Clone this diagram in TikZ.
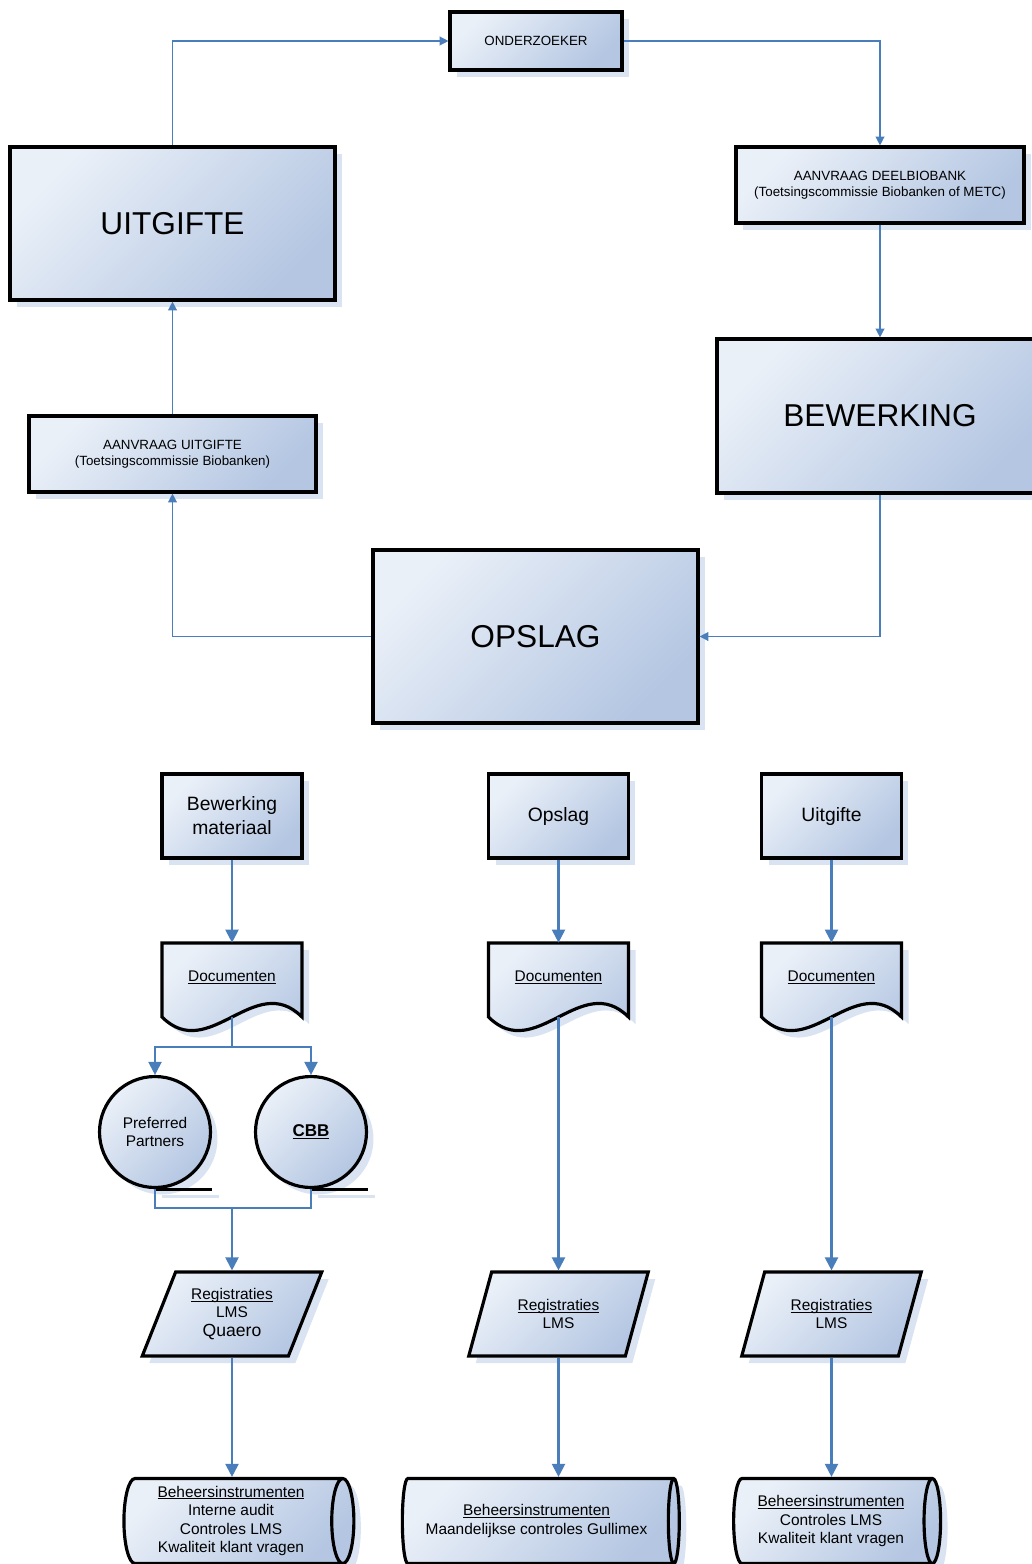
\documentclass[tikz,border=0pt]{standalone}
\usepackage{fontspec}
\setmainfont{Liberation Sans}
\usepackage{tikz}
\usetikzlibrary{shapes.geometric, shadows, arrows.meta}

\definecolor{FlowBlue}{HTML}{4A7EBB}
\definecolor{BoxLight}{HTML}{EAF0F8}
\definecolor{BoxDark}{HTML}{B4C6E2}
\definecolor{ShadowBlue}{HTML}{DAE3F2}

% underline that sits just below the baseline
\newcommand{\ulabel}[1]{\setbox0\hbox{#1}\rlap{\rule[-1.2pt]{\wd0}{0.45pt}}\box0}

\tikzset{
    boxshade/.style={top color=BoxLight, bottom color=BoxDark, shading angle=45},
    boxshadow/.style={drop shadow={shadow xshift=0.14cm, shadow yshift=-0.14cm, fill=ShadowBlue, opacity=1}},
    flowshape/.style={draw=black, line width=1.8pt, boxshade, boxshadow, align=center},
    flowbox/.style={rectangle, flowshape, inner sep=2pt},
    bigfont/.style={font=\fontsize{18}{22}\selectfont},
    smallfont/.style={font=\fontsize{7.6}{9}\selectfont},
    midfont/.style={font=\fontsize{11}{13.6}\selectfont},
    docfont/.style={font=\fontsize{8.8}{10.6}\selectfont},
    regbox/.style={trapezium, trapezium left angle=65, trapezium right angle=115, trapezium stretches=true,
        minimum width=3.6cm, minimum height=1.68cm, flowshape, docfont, inner sep=0pt},
    behbox/.style={cylinder, shape aspect=0.3, minimum width=1.7cm, flowshape, docfont, inner sep=1pt},
    thinarrow/.style={draw=FlowBlue, line width=0.75pt, -{Triangle[length=5pt,width=5pt]}},
    thickarrow/.style={draw=FlowBlue, line width=1.2pt, -{Triangle[length=7.4pt,width=7.4pt]}},
    plainline/.style={draw=FlowBlue, line width=1.2pt}
}

\begin{document}
\begin{tikzpicture}[x=0.02cm, y=-0.02cm]
    \useasboundingbox (0,0) rectangle (1031,1564);

    % Upper cycle
    \node[flowbox, smallfont, minimum width=3.44cm, minimum height=1.16cm] (Onderzoeker) at (536,41) {ONDERZOEKER};
    \node[flowbox, bigfont, minimum width=6.5cm, minimum height=3.06cm] (Uitgifte) at (172.5,223.5) {UITGIFTE};
    \node[flowbox, smallfont, minimum width=5.76cm, minimum height=1.52cm] (Deelbiobank) at (880,185)
        {AANVRAAG DEELBIOBANK\\(Toetsingscommissie Biobanken of METC)};
    \node[flowbox, bigfont, minimum width=6.52cm, minimum height=3.08cm] (Bewerking) at (880,416) {BEWERKING};
    \node[flowbox, smallfont, minimum width=5.74cm, minimum height=1.52cm] (AanvraagUitgifte) at (172.5,454)
        {AANVRAAG UITGIFTE\\(Toetsingscommissie Biobanken)};
    \node[flowbox, bigfont, minimum width=6.5cm, minimum height=3.46cm] (Opslag) at (535.5,636.5) {OPSLAG};

    \draw[thinarrow] (Uitgifte.north) |- (Onderzoeker.west);
    \draw[thinarrow] (Onderzoeker.east) -| (Deelbiobank.north);
    \draw[thinarrow] (Deelbiobank.south) -- (Bewerking.north);
    \draw[thinarrow] (Bewerking.south) |- (Opslag.east);
    \draw[thinarrow] (Opslag.west) -| (AanvraagUitgifte.south);
    \draw[thinarrow] (AanvraagUitgifte.north) -- (Uitgifte.south);

    % Lower columns
    \node[flowbox, midfont, minimum width=2.8cm, minimum height=1.68cm] (Fase1) at (232,816) {Bewerking\\materiaal};
    \node[flowbox, midfont, minimum width=2.8cm, minimum height=1.68cm] (Fase2) at (558.5,816) {Opslag};
    \node[flowbox, midfont, minimum width=2.8cm, minimum height=1.68cm] (Fase3) at (831.5,816) {Uitgifte};

    % Document shapes with wavy bottom
    \foreach \x [count=\i] in {232,558.5,831.5} {
        \begin{scope}[shift={(\x-70,943)}]
            \path[boxshade, boxshadow, draw=black, line width=1.8pt]
                (0,0) -- (140,0) -- (140,74) .. controls (93,27) and (47,121) .. (0,74) -- cycle;
        \end{scope}
        \node[docfont, minimum width=2.8cm, minimum height=1.48cm] (Doc\i) at (\x,980) {\raisebox{4pt}{\ulabel{Documenten}}};
    }

    \node[circle, flowshape, docfont, minimum size=2.22cm, inner sep=0pt] (Preferred) at (155,1132) {Preferred\\Partners};
    \node[circle, flowshape, font=\fontsize{9.7}{11}\selectfont\bfseries, minimum size=2.22cm, inner sep=0pt] (CBB) at (311,1132) {\ulabel{CBB}};
    \foreach \n in {Preferred, CBB} {
        \draw[ShadowBlue, line width=1.8pt] ([shift={(0.14cm,-0.14cm)}]\n.south) -- ++(57,0);
        \draw[black, line width=1.8pt] (\n.south) -- ++(57,0);
    }

    \node[regbox] (Reg1) at (232,1314) {\ulabel{Registraties}\\LMS\\{\fontsize{10}{12}\selectfont Quaero}};
    \node[regbox] (Reg2) at (558.5,1314) {\ulabel{Registraties}\\LMS};
    \node[regbox] (Reg3) at (831.5,1314) {\ulabel{Registraties}\\LMS};

    \node[behbox, minimum height=4.6cm] (Beh1) at (231,1521)
        {\ulabel{Beheersinstrumenten}\\Interne audit\\Controles LMS\\Kwaliteit klant vragen};
    \node[behbox, minimum height=5.54cm] (Beh2) at (536.5,1521)
        {\ulabel{Beheersinstrumenten}\\Maandelijkse controles Gullimex};
    \node[behbox, minimum height=4.14cm] (Beh3) at (831,1521)
        {\ulabel{Beheersinstrumenten}\\Controles LMS\\Kwaliteit klant vragen};

    % Connectors
    \foreach \i in {1,2,3} {
        \draw[thickarrow] (Fase\i.south) -- (Doc\i.north);
        \draw[thickarrow] (Reg\i.center |- Reg\i.south) -- (Reg\i.center |- Beh\i.north);
    }
    \foreach \i in {2,3}
        \draw[thickarrow] (Doc\i.south) -- (Doc\i.south |- Reg\i.north);
    \draw[thickarrow] (Doc1.south) -- ++(0,30) -| (Preferred.north);
    \draw[thickarrow] (Doc1.south) -- ++(0,30) -| (CBB.north);
    \coordinate (Join) at (232,1208);
    \draw[plainline] (Preferred.south) |- (Join);
    \draw[plainline] (CBB.south) |- (Join);
    \draw[thickarrow] (Join) -- (Join |- Reg1.north);
\end{tikzpicture}
\end{document}
